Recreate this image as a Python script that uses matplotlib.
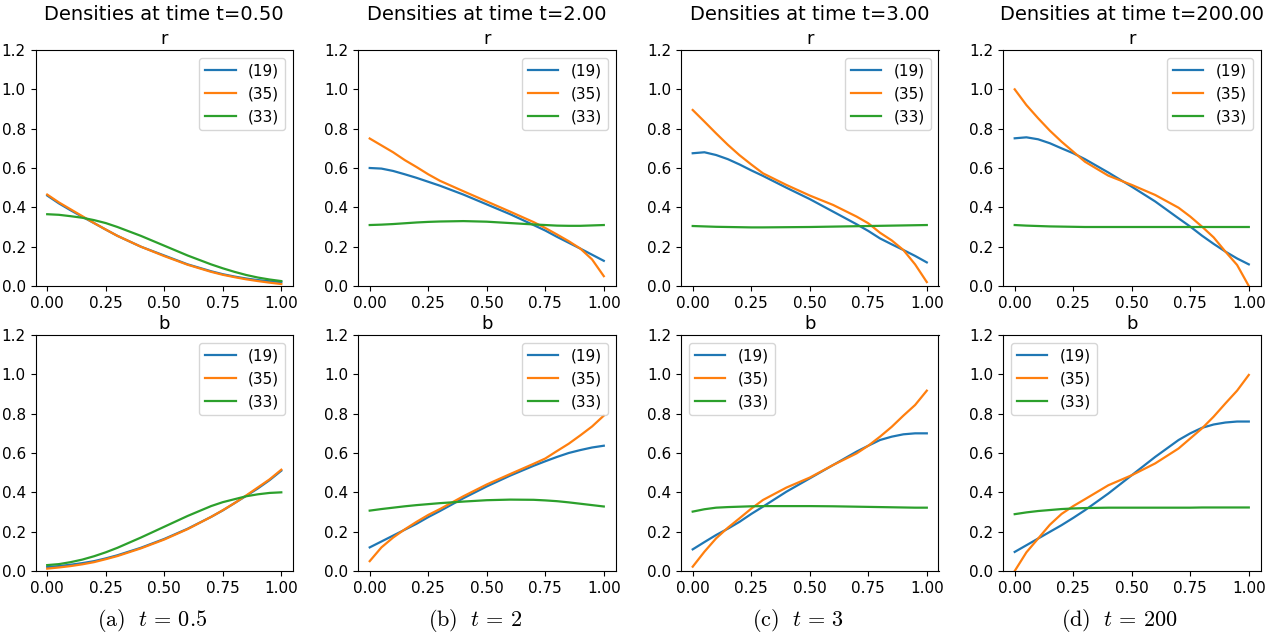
import numpy as np
import matplotlib
matplotlib.use("Agg")
import matplotlib.pyplot as plt

plt.rcParams['mathtext.fontset'] = 'cm'

# sample positions along the domain
x = [0, 0.05, 0.1, 0.15, 0.2, 0.25, 0.3, 0.4, 0.5, 0.6, 0.7, 0.75, 0.8, 0.85, 0.9, 0.95, 1.0]

times = [0.5, 2, 3, 200]
captions = ['(a)', '(b)', '(c)', '(d)']
labels = ['(19)', '(35)', '(33)']

# red densities, one list per time
r19 = [
    [0.46, 0.42, 0.385, 0.352, 0.32, 0.287, 0.255, 0.2, 0.155, 0.11, 0.075, 0.06, 0.048, 0.038, 0.03, 0.024, 0.02],
    [0.6, 0.597, 0.585, 0.568, 0.55, 0.53, 0.51, 0.465, 0.415, 0.365, 0.31, 0.282, 0.25, 0.22, 0.19, 0.159, 0.128],
    [0.675, 0.68, 0.666, 0.645, 0.618, 0.588, 0.56, 0.5, 0.442, 0.378, 0.314, 0.28, 0.242, 0.212, 0.183, 0.153, 0.12],
    [0.751, 0.756, 0.746, 0.726, 0.70, 0.675, 0.645, 0.577, 0.505, 0.43, 0.344, 0.302, 0.256, 0.214, 0.175, 0.14, 0.11],
]
r35 = [
    [0.465, 0.425, 0.39, 0.355, 0.32, 0.287, 0.255, 0.2, 0.152, 0.108, 0.072, 0.057, 0.045, 0.034, 0.025, 0.017, 0.01],
    [0.75, 0.715, 0.68, 0.64, 0.605, 0.568, 0.535, 0.482, 0.43, 0.378, 0.325, 0.295, 0.262, 0.228, 0.19, 0.135, 0.05],
    [0.895, 0.836, 0.776, 0.718, 0.665, 0.618, 0.573, 0.514, 0.46, 0.412, 0.353, 0.319, 0.271, 0.232, 0.183, 0.11, 0.02],
    [1.0, 0.92, 0.853, 0.79, 0.734, 0.683, 0.632, 0.561, 0.514, 0.463, 0.398, 0.353, 0.302, 0.247, 0.175, 0.107, 0.0],
]
r33 = [
    [0.365, 0.362, 0.355, 0.347, 0.335, 0.32, 0.3, 0.255, 0.205, 0.155, 0.11, 0.09, 0.072, 0.056, 0.043, 0.033, 0.025],
    [0.31, 0.312, 0.315, 0.319, 0.323, 0.326, 0.328, 0.33, 0.327, 0.32, 0.313, 0.31, 0.307, 0.306, 0.306, 0.308, 0.31],
    [0.305, 0.303, 0.301, 0.3, 0.299, 0.298, 0.298, 0.299, 0.3, 0.302, 0.304, 0.305, 0.306, 0.307, 0.308, 0.309, 0.31],
    [0.31, 0.307, 0.305, 0.303, 0.302, 0.301, 0.3, 0.3, 0.3, 0.3, 0.3, 0.3, 0.3, 0.3, 0.3, 0.3, 0.3],
]

# blue densities, one list per time
b19 = [
    [0.02, 0.025, 0.032, 0.04, 0.05, 0.064, 0.08, 0.118, 0.163, 0.215, 0.275, 0.308, 0.345, 0.382, 0.42, 0.462, 0.51],
    [0.12, 0.15, 0.18, 0.21, 0.24, 0.274, 0.305, 0.37, 0.43, 0.485, 0.535, 0.558, 0.58, 0.6, 0.615, 0.628, 0.637],
    [0.11, 0.147, 0.183, 0.215, 0.25, 0.29, 0.327, 0.403, 0.471, 0.539, 0.607, 0.637, 0.666, 0.683, 0.695, 0.70, 0.70],
    [0.097, 0.131, 0.165, 0.199, 0.233, 0.27, 0.309, 0.394, 0.487, 0.58, 0.666, 0.70, 0.728, 0.745, 0.755, 0.76, 0.76],
]
b35 = [
    [0.012, 0.018, 0.025, 0.034, 0.045, 0.06, 0.076, 0.115, 0.16, 0.213, 0.275, 0.309, 0.345, 0.384, 0.425, 0.466, 0.515],
    [0.05, 0.12, 0.17, 0.212, 0.25, 0.285, 0.315, 0.38, 0.44, 0.493, 0.545, 0.572, 0.61, 0.647, 0.69, 0.735, 0.79],
    [0.022, 0.098, 0.166, 0.22, 0.268, 0.317, 0.361, 0.424, 0.475, 0.539, 0.598, 0.637, 0.683, 0.733, 0.79, 0.844, 0.917],
    [0.0, 0.095, 0.165, 0.235, 0.29, 0.33, 0.365, 0.436, 0.487, 0.547, 0.623, 0.674, 0.725, 0.785, 0.852, 0.917, 0.997],
]
b33 = [
    [0.03, 0.035, 0.045, 0.058, 0.075, 0.095, 0.118, 0.17, 0.225, 0.28, 0.33, 0.35, 0.365, 0.38, 0.39, 0.397, 0.4],
    [0.307, 0.315, 0.322, 0.329, 0.335, 0.34, 0.345, 0.353, 0.36, 0.363, 0.362, 0.359, 0.355, 0.349, 0.342, 0.335, 0.328],
    [0.302, 0.314, 0.322, 0.325, 0.327, 0.329, 0.33, 0.33, 0.33, 0.329, 0.327, 0.326, 0.325, 0.324, 0.323, 0.322, 0.322],
    [0.289, 0.298, 0.305, 0.31, 0.315, 0.318, 0.32, 0.322, 0.322, 0.322, 0.322, 0.322, 0.323, 0.323, 0.323, 0.323, 0.323],
]

W, H = 1282, 642
fig = plt.figure(figsize=(W / 100, H / 100), dpi=100)

lefts = [35.5, 358, 681, 1003]
aw, ah = 257.5, 236
tops = [50, 335]
b_loc = ['upper right', 'upper right', 'upper left', 'upper left']

for i, t in enumerate(times):
    for row in range(2):
        ax = fig.add_axes([lefts[i] / W, 1 - (tops[row] + ah) / H, aw / W, ah / H])
        if row == 0:
            series = [r19[i], r35[i], r33[i]]
            ax.set_title('r', fontsize=13, pad=4)
            loc = 'upper right'
        else:
            series = [b19[i], b35[i], b33[i]]
            ax.set_title('b', fontsize=13, pad=4)
            loc = b_loc[i]
        for y, lab in zip(series, labels):
            ax.plot(x, y, label=lab, lw=1.6)
        ax.set_ylim(0, 1.2)
        ax.set_xticks([0, 0.25, 0.5, 0.75, 1.0])
        ax.set_yticks(np.arange(0, 1.21, 0.2))
        ax.tick_params(labelsize=11)
        ax.legend(loc=loc, fontsize=11)

    cx = (lefts[i] + aw / 2) / W
    fig.text(cx, 1 - 14 / H, 'Densities at time t=%.2f' % t, ha='center', va='center', fontsize=14)
    tstr = ('%g' % t)
    fig.text(cx - 12 / W, 1 - 620 / H, r'$\mathrm{%s}\ \ t\,=\,%s$' % (captions[i], tstr),
             ha='center', va='center', fontsize=16)

fig.savefig('out.png', dpi=100)
